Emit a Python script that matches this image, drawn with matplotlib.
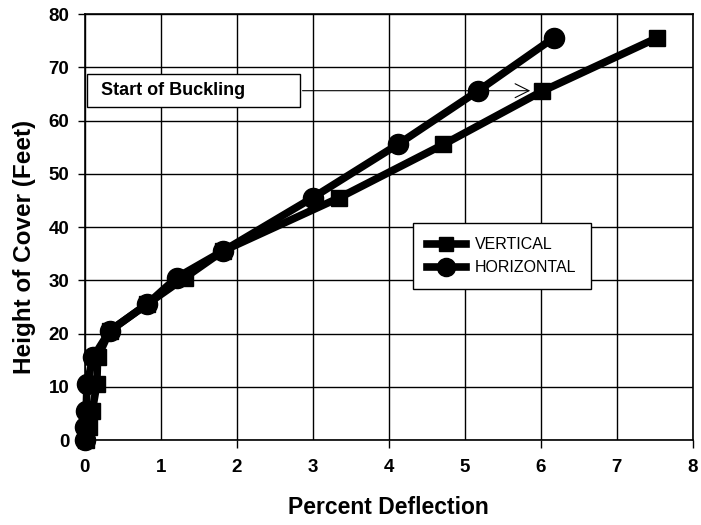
import numpy as np
import matplotlib.pyplot as plt
import matplotlib.patches as mpatches

# heights of cover (ft) and percent deflection
h_vert = [0, 2.5, 5.5, 10.5, 15.5, 20.5, 25.5, 30.5, 35.5, 45.5, 55.5, 65.5, 75.5]
d_vert = [0.02, 0.06, 0.10, 0.16, 0.17, 0.33, 0.82, 1.32, 1.82, 3.35, 4.72, 6.02, 7.53]

h_horz = [0, 2.5, 5.5, 10.5, 15.5, 20.5, 25.5, 30.5, 35.5, 45.5, 55.5, 65.5, 75.5]
d_horz = [0.0, 0.01, 0.02, 0.03, 0.11, 0.33, 0.82, 1.21, 1.82, 3.0, 4.12, 5.17, 6.17]

x_ticks = [0, 1, 2, 3, 4, 5, 6, 7, 8]
y_ticks = [0, 10, 20, 30, 40, 50, 60, 70, 80]

plt.rcParams['font.family'] = ['Liberation Sans', 'DejaVu Sans']

fig = plt.figure(figsize=(7.01, 5.25), dpi=100)
ax = fig.add_axes([0.1208, 0.1619, 0.988 - 0.1208, 0.9733 - 0.1619])

ax.plot(d_vert, h_vert, color='black', lw=5.5, marker='s', ms=11.5,
        label='VERTICAL', zorder=3, clip_on=False)
ax.plot(d_horz, h_horz, color='black', lw=5.5, marker='o', ms=14.5,
        label='HORIZONTAL', zorder=4, clip_on=False)

ax.set_xlim(0, 8)
ax.set_ylim(0, 80)

# labels on every unit, outward ticks only on even values
ax.set_xticks([t for t in x_ticks if t % 2 == 0],
              labels=[str(t) for t in x_ticks if t % 2 == 0])
ax.set_xticks([t for t in x_ticks if t % 2 == 1],
              labels=[str(t) for t in x_ticks if t % 2 == 1], minor=True)
ax.set_yticks(y_ticks, labels=[str(t) for t in y_ticks])
ax.tick_params(axis='x', which='major', length=6, width=1, direction='out', pad=8)
ax.tick_params(axis='x', which='minor', length=0, pad=14)
ax.tick_params(axis='y', length=5, width=1, direction='out', pad=6)
for lab in ax.get_xticklabels(which='both') + ax.get_yticklabels():
    lab.set_fontsize(13.5)
    lab.set_fontweight('bold')

ax.grid(True, which='both', color='black', lw=1)
ax.set_axisbelow(True)
for sp in ax.spines.values():
    sp.set_linewidth(1.2)

ax.set_xlabel('Percent Deflection', fontsize=16.5, fontweight='bold', labelpad=14)
ax.set_ylabel('Height of Cover (Feet)', fontsize=17.5, fontweight='bold')
ax.yaxis.set_label_coords(-0.080, 0.453)

# annotation box with arrow
ax.add_patch(mpatches.Rectangle((0.03, 62.6), 2.80, 6.1, facecolor='white',
                                edgecolor='black', lw=1, zorder=5))
ax.text(0.21, 65.6, 'Start of Buckling', fontsize=13, fontweight='bold',
        va='center', ha='left', zorder=6)
ax.annotate('', xy=(5.9, 65.6), xytext=(2.83, 65.6),
            arrowprops=dict(arrowstyle='->', color='black', lw=0.8,
                            mutation_scale=25), zorder=6)

leg = ax.legend(loc='upper left', bbox_to_anchor=(4.32 / 8, 40.8 / 80),
                borderaxespad=0, fancybox=False, framealpha=1, edgecolor='black',
                prop={'size': 11.5}, handlelength=2.4, markerscale=0.9,
                borderpad=0.9, labelspacing=0.5, handletextpad=0.6)
leg.get_frame().set_linewidth(1)
leg.set_zorder(7)

fig.savefig('out.png', dpi=100)
